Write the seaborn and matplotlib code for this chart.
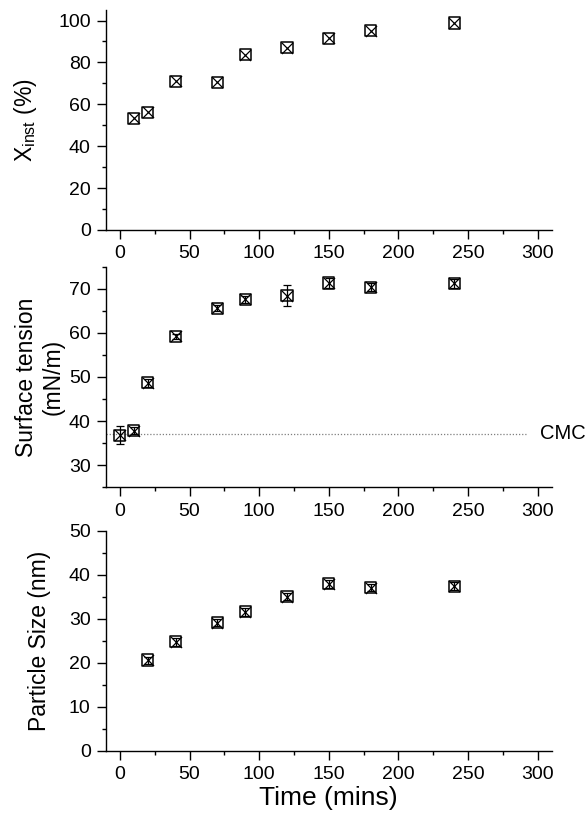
import numpy as np
import pandas as pd
import matplotlib
matplotlib.use("Agg")
import matplotlib.pyplot as plt
from matplotlib.ticker import MultipleLocator
import seaborn as sns

# Instantaneous conversion
time_conv = [10, 20, 40, 70, 90, 120, 150, 180, 240]
x_inst = [53.4, 56.1, 70.9, 70.6, 83.6, 87.1, 91.6, 95.2, 98.8]

# Surface tension
time_st = [0, 10, 20, 40, 70, 90, 120, 150, 180, 240]
surf_tension = [36.8, 37.8, 48.7, 59.2, 65.6, 67.6, 68.4, 71.3, 70.3, 71.2]
surf_tension_err = [2.1, 0.8, 0.9, 0.5, 0.7, 0.8, 2.4, 1.1, 0.9, 1.0]
cmc_value = 37.1

# Particle size
time_ps = [20, 40, 70, 90, 120, 150, 180, 240]
particle_size = [20.6, 24.8, 29.1, 31.6, 35.0, 37.9, 37.0, 37.4]
particle_size_err = [0.8, 0.9, 0.8, 0.9, 0.8, 0.9, 0.8, 0.9]

sns.set_theme(style="ticks")
plt.rcParams["font.family"] = ["Liberation Sans", "DejaVu Sans"]
plt.rcParams["mathtext.fontset"] = "custom"
plt.rcParams["mathtext.rm"] = "Liberation Sans"
plt.rcParams["mathtext.it"] = "Liberation Sans:italic"
for key in ("text.color", "axes.labelcolor", "xtick.color", "ytick.color",
            "xtick.labelcolor", "ytick.labelcolor"):
    plt.rcParams[key] = "black"

fig = plt.figure(figsize=(5.87, 8.22), dpi=100)
left, width = 0.1806, 0.759
ax1 = fig.add_axes([left, 0.7202, width, 0.2676])
ax2 = fig.add_axes([left, 0.4072, width, 0.2684])
ax3 = fig.add_axes([left, 0.0868, width, 0.2676])

MS = 8


def draw_points(ax, t, y, err=None):
    df = pd.DataFrame({"t": t, "y": y})
    if err is not None:
        ax.errorbar(t, y, yerr=err, fmt="none", ecolor="black",
                    elinewidth=0.9, capsize=3, capthick=0.9, zorder=2)
    sns.scatterplot(data=df, x="t", y="y", ax=ax, marker="s", s=MS ** 2,
                    facecolor="none", edgecolor="black", linewidth=1.1,
                    zorder=3, legend=False)
    sns.scatterplot(data=df, x="t", y="y", ax=ax, marker="x", s=MS ** 2,
                    color="black", linewidth=0.9, zorder=3, legend=False)


draw_points(ax1, time_conv, x_inst)
draw_points(ax2, time_st, surf_tension, surf_tension_err)
draw_points(ax3, time_ps, particle_size, particle_size_err)

# Critical micelle concentration reference
ax2.plot([-10, 292], [cmc_value, cmc_value], linestyle=(0, (1, 1.5)),
         color="#7f7f7f", linewidth=0.9, zorder=1)
ax2.text(301.5, cmc_value, "CMC", fontsize=14.5, va="center", ha="left",
         clip_on=False)

for ax in (ax1, ax2, ax3):
    sns.despine(ax=ax)
    ax.set_xlim(-10, 310)
    ax.xaxis.set_major_locator(MultipleLocator(50))
    ax.xaxis.set_minor_locator(MultipleLocator(25))
    ax.tick_params(which="major", direction="out", length=6.5, width=1,
                   labelsize=14, pad=4.5, color="black", labelcolor="black")
    ax.tick_params(which="minor", direction="out", length=3, width=1,
                   color="black")
    for sp in ("left", "bottom"):
        ax.spines[sp].set_linewidth(1.0)
        ax.spines[sp].set_color("black")
    ax.set_xlabel("")

ax1.set_ylim(0, 105)
ax1.yaxis.set_major_locator(MultipleLocator(20))
ax1.yaxis.set_minor_locator(MultipleLocator(10))
ax1.set_ylabel(r"X$_{\mathregular{inst}}$ (%)", fontsize=16.5)
ax1.yaxis.set_label_coords(-0.15, 0.5)

ax2.set_ylim(25, 75)
ax2.yaxis.set_major_locator(MultipleLocator(10))
ax2.yaxis.set_minor_locator(MultipleLocator(5))
ax2.set_ylabel("Surface tension\n(mN/m)", fontsize=16.5, linespacing=1.15)
ax2.yaxis.set_label_coords(-0.094, 0.5)

ax3.set_ylim(0, 50)
ax3.yaxis.set_major_locator(MultipleLocator(10))
ax3.yaxis.set_minor_locator(MultipleLocator(5))
ax3.set_ylabel("Particle Size (nm)", fontsize=16.5)
ax3.yaxis.set_label_coords(-0.123, 0.5)
ax3.set_xlabel("Time (mins)", fontsize=19, labelpad=2)

fig.savefig("out.png", dpi=100)
